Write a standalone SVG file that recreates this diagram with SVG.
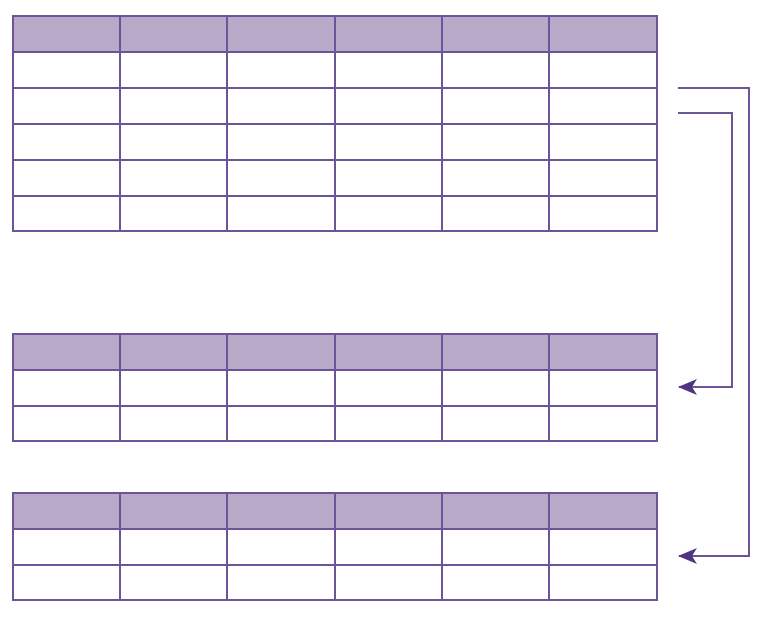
<svg xmlns="http://www.w3.org/2000/svg" width="766" height="617" viewBox="0 0 766 617">
<style>
.hdr{fill:#b8a9c9;stroke:none}
.grid{fill:none;stroke:#6b5598;stroke-width:2}
.conn{fill:none;stroke:#6b5598;stroke-width:2}
</style>
<defs>
<marker id="ah" viewBox="0 0 20 18" refX="19" refY="9" markerWidth="20" markerHeight="18" markerUnits="userSpaceOnUse" orient="auto">
<path d="M20,9 L1,1 L6,9 L1,17 Z" fill="#4e3580"/>
</marker>
</defs>
<rect width="766" height="617" fill="#ffffff"/>
<g id="table1">
<rect class="hdr" x="13" y="16" width="644" height="36"/>
<path class="grid" d="M13,16H657V231H13Z M13,52H657 M13,88H657 M13,124H657 M13,160H657 M13,196H657 M120,16V231 M227,16V231 M335,16V231 M442,16V231 M549,16V231"/>
</g>
<g id="table2">
<rect class="hdr" x="13" y="334" width="644" height="36"/>
<path class="grid" d="M13,334H657V441H13Z M13,370H657 M13,406H657 M120,334V441 M227,334V441 M335,334V441 M442,334V441 M549,334V441"/>
</g>
<g id="table3">
<rect class="hdr" x="13" y="493" width="644" height="36"/>
<path class="grid" d="M13,493H657V600H13Z M13,529H657 M13,565H657 M120,493V600 M227,493V600 M335,493V600 M442,493V600 M549,493V600"/>
</g>
<g id="connectors">
<path class="conn" d="M678,88H749V556H679" marker-end="url(#ah)"/>
<path class="conn" d="M678,113H732V387H679" marker-end="url(#ah)"/>
</g>
</svg>
